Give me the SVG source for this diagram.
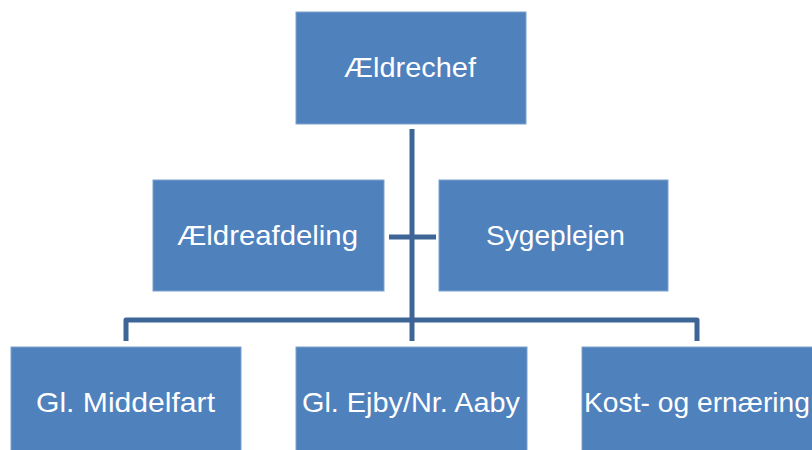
<svg xmlns="http://www.w3.org/2000/svg" width="812" height="450" viewBox="0 0 812 450">
<style>
.box{fill:#4F81BD;stroke:#7FA1CC;stroke-width:1}
.lbl{fill:#FFFFFF;font-family:"Liberation Sans","Open Sans",sans-serif;font-size:28px}
.conn{stroke:#3D6596;stroke-width:5;fill:none;stroke-linejoin:round}
</style>
<rect width="812" height="450" fill="#FFFFFF"/>
<g id="connectors">
<line class="conn" x1="412" y1="129" x2="412" y2="341"/>
<line class="conn" x1="389" y1="237" x2="436" y2="237"/>
<polyline class="conn" points="126,341 126,320 697,320 697,341"/>
</g>
<g id="n-aeldrechef">
<rect class="box" x="296" y="12" width="230" height="112"/>
<text class="lbl" x="344" y="77" textLength="132" lengthAdjust="spacingAndGlyphs">Ældrechef</text>
</g>
<g id="n-aeldreafdeling">
<rect class="box" x="153" y="180" width="231" height="111"/>
<text class="lbl" x="177" y="245" textLength="181" lengthAdjust="spacingAndGlyphs">Ældreafdeling</text>
</g>
<g id="n-sygeplejen">
<rect class="box" x="439" y="180" width="229" height="111"/>
<text class="lbl" x="486" y="245" textLength="139" lengthAdjust="spacingAndGlyphs">Sygeplejen</text>
</g>
<g id="n-middelfart">
<rect class="box" x="11" y="347" width="230" height="112"/>
<text class="lbl" x="36" y="412" textLength="179" lengthAdjust="spacingAndGlyphs">Gl. Middelfart</text>
</g>
<g id="n-ejby">
<rect class="box" x="296" y="347" width="231" height="112"/>
<text class="lbl" x="302" y="412" textLength="218" lengthAdjust="spacingAndGlyphs">Gl. Ejby/Nr. Aaby</text>
</g>
<g id="n-kost">
<rect class="box" x="582" y="347" width="240" height="112"/>
<text class="lbl" x="584" y="412" textLength="226" lengthAdjust="spacingAndGlyphs">Kost- og ernæring</text>
</g>
</svg>
